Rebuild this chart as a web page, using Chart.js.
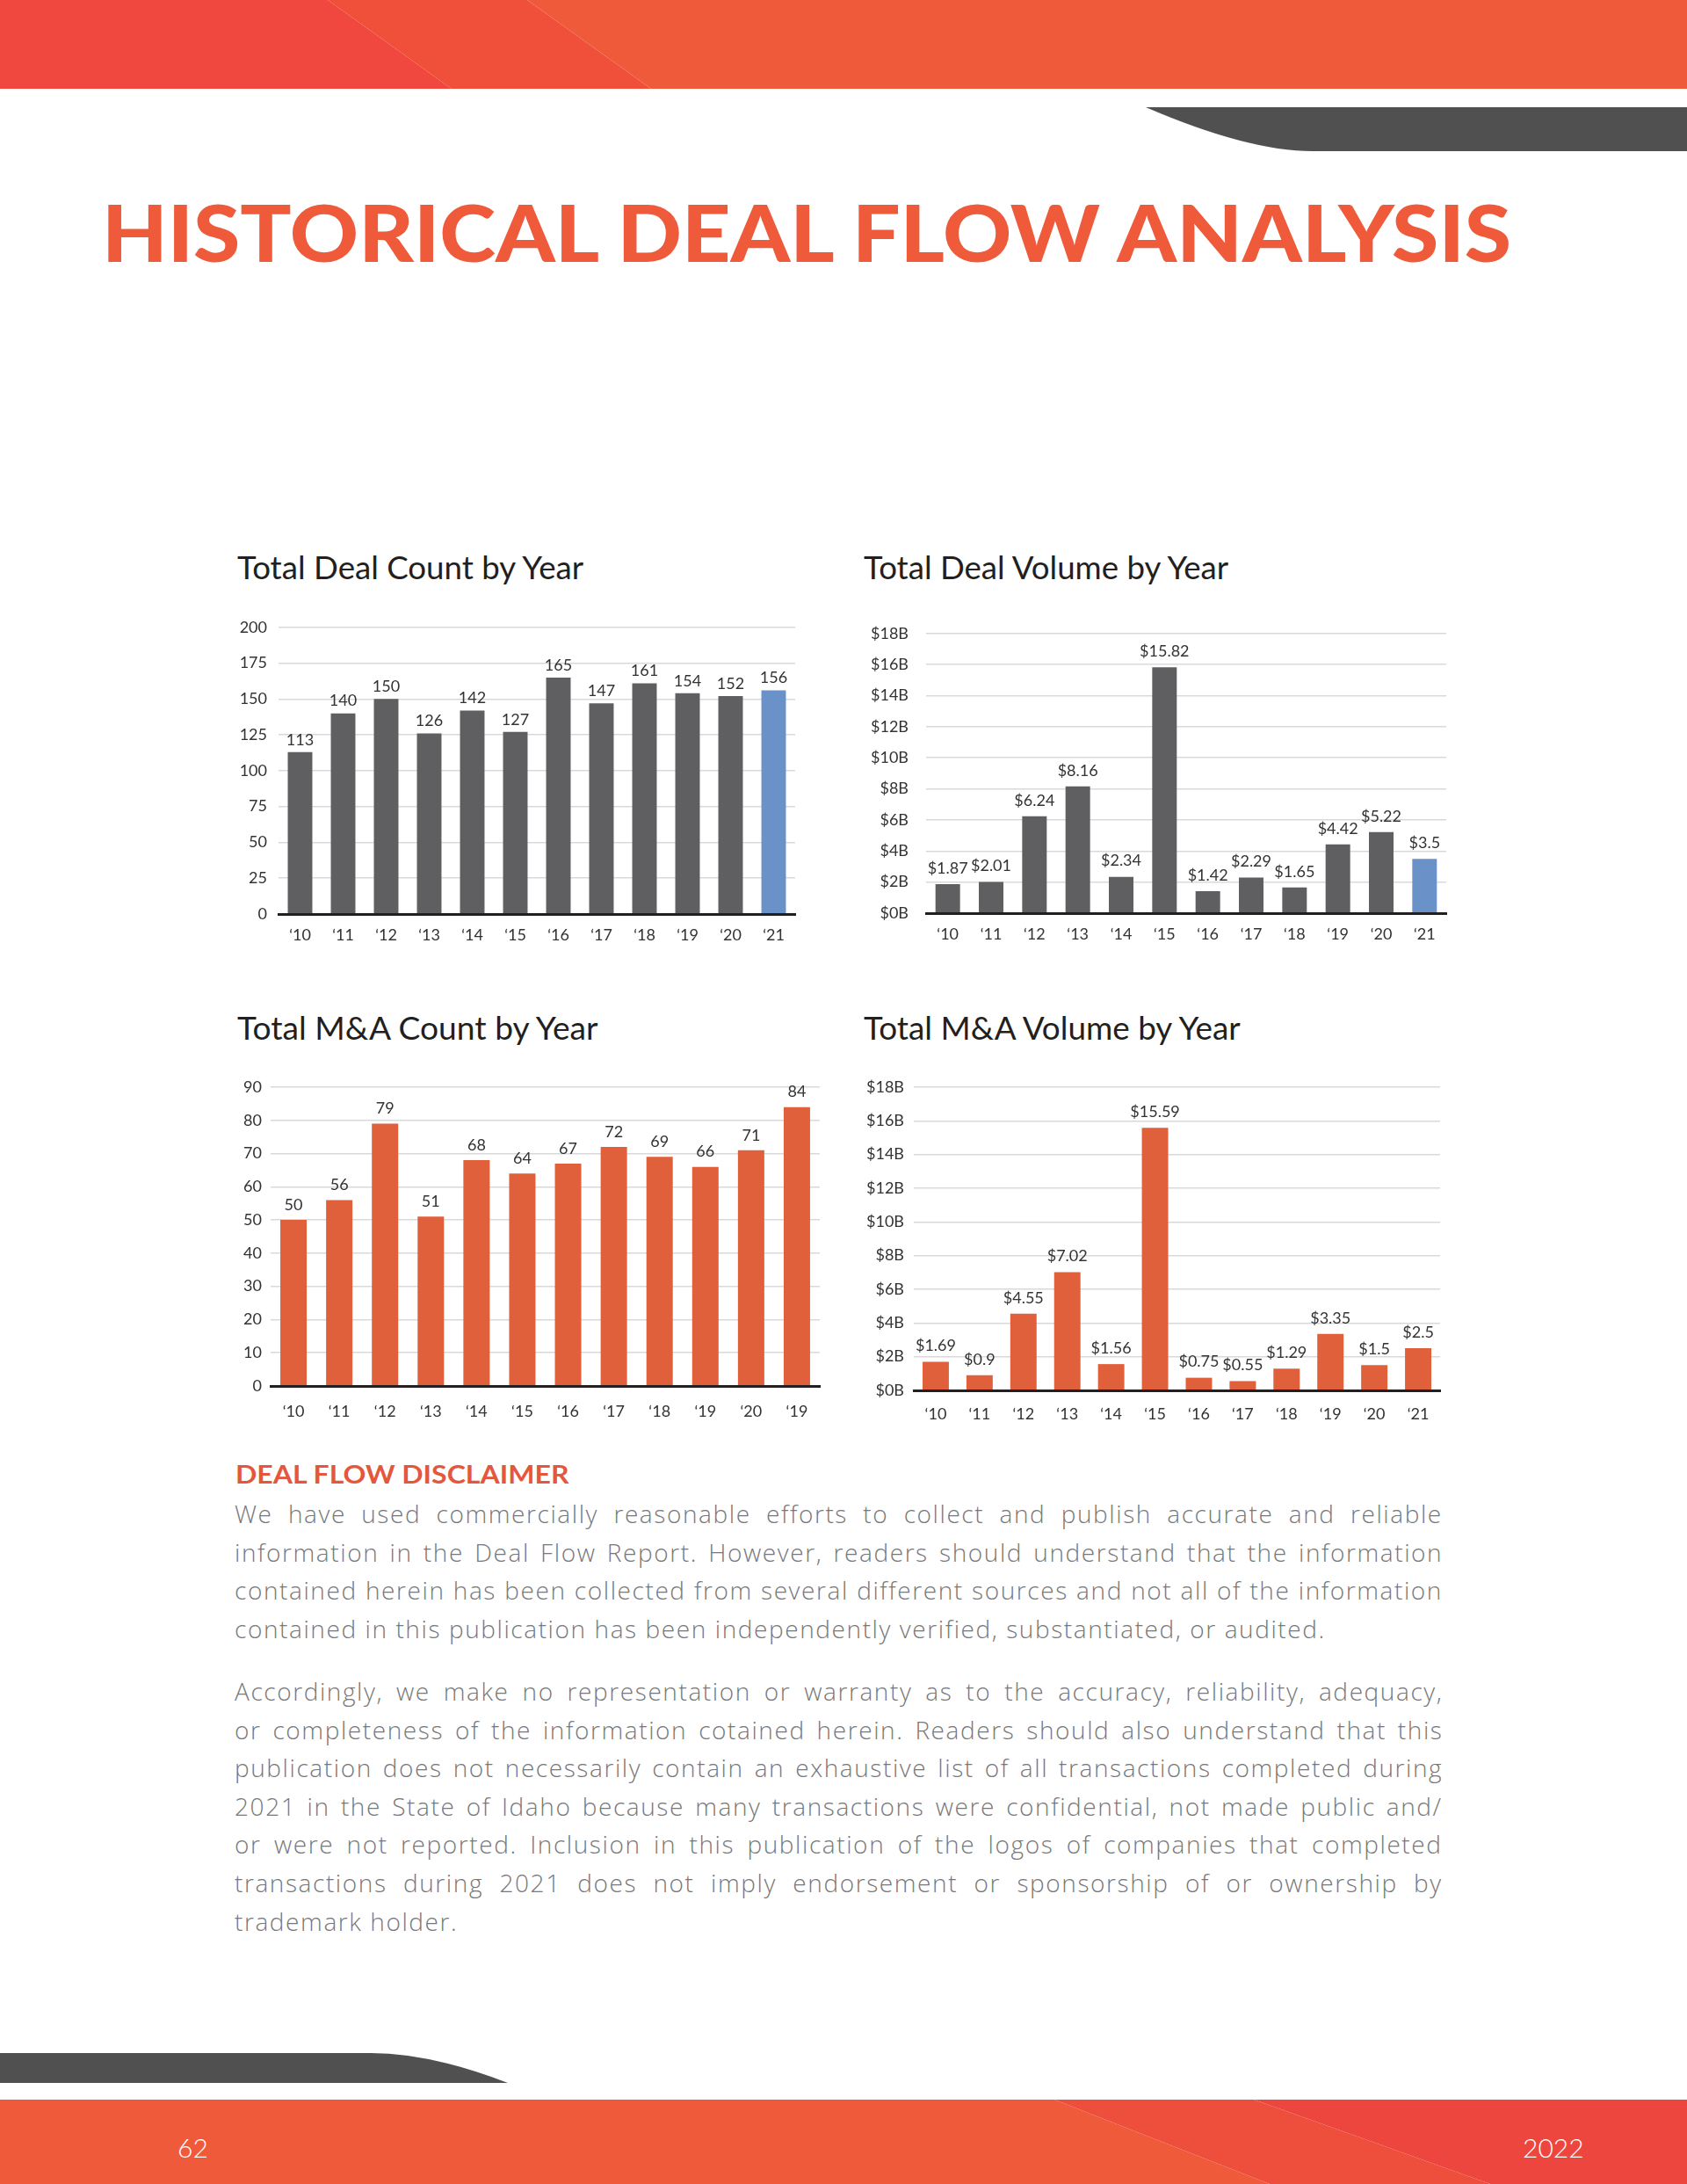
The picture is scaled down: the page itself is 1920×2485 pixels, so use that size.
<!DOCTYPE html>
<html>
<head>
<meta charset="utf-8">
<title>Historical Deal Flow Analysis</title>
<script src="https://cdn.jsdelivr.net/npm/chart.js@4.4.1/dist/chart.umd.min.js"></script>
<style>
html, body { margin: 0; padding: 0; background: #fff; }
body { width: 1920px; height: 2485px; position: relative; overflow: hidden; font-family: Lato, "Noto Sans", sans-serif; }
.abs { position: absolute; white-space: nowrap; transform-origin: 0 0; }
.page-title { left: 116px; top: 218px; font-size: 90px; line-height: 1; font-weight: 900; color: #ef5a3b; }
.chart-title { font-size: 36px; line-height: 1; font-weight: 400; color: #231f20; }
.disc-head { left: 268px; top: 1663px; font-size: 28px; line-height: 1; font-weight: 700; color: #e4573d; }
.para { position: absolute; left: 267px; width: 1375px; font-family: "Open Sans", "Noto Sans", sans-serif; font-size: 28px; line-height: 43.6px; color: #77787b; font-weight: 300; }
.para div { white-space: nowrap; }
.para span { display: inline-block; }
.folio { font-size: 30px; line-height: 1; color: #fff; font-weight: 300; top: 2428px; }
canvas { position: absolute; }
</style>
</head>
<body>

<svg class="abs" style="left:0;top:0" width="1920" height="2485">
  <polygon points="0,0 373,0 514,101 0,101" fill="#f0473e"/>
  <polygon points="373,0 600,0 741,101 514,101" fill="#f04f3a"/>
  <polygon points="600,0 1920,0 1920,101 741,101" fill="#ef5a3b"/>
  <path d="M1304,122 H1920 V172 H1494 Q1420,172 1304,122 Z" fill="#505050"/>
  <path d="M0,2336 H422 Q490,2336 578,2370 H0 Z" fill="#505050"/>
  <polygon points="0,2389 1200,2389 1445,2485 0,2485" fill="#ef5a3b"/>
  <polygon points="1200,2389 1427,2389 1696,2485 1445,2485" fill="#ee4f3c"/>
  <polygon points="1427,2389 1920,2389 1920,2485 1696,2485" fill="#ed463e"/>
</svg>

<div class="abs page-title" data-fit="1604">HISTORICAL DEAL FLOW ANALYSIS</div>

<div class="abs chart-title" style="left:270px;top:627px" data-fit="394">Total Deal Count by Year</div>
<div class="abs chart-title" style="left:983px;top:627px" data-fit="415">Total Deal Volume by Year</div>
<div class="abs chart-title" style="left:270px;top:1151px" data-fit="411">Total M&amp;A Count by Year</div>
<div class="abs chart-title" style="left:983px;top:1151px" data-fit="429">Total M&amp;A Volume by Year</div>

<canvas id="dealCountChart"></canvas>
<canvas id="dealVolumeChart"></canvas>
<canvas id="maCountChart"></canvas>
<canvas id="maVolumeChart"></canvas>

<div class="abs disc-head" data-fit="380">DEAL FLOW DISCLAIMER</div>

<div class="para" style="top:1701px">
  <div><span>We have used commercially reasonable efforts to collect and publish accurate and reliable</span></div>
  <div><span>information in the Deal Flow Report. However, readers should understand that the information</span></div>
  <div><span>contained herein has been collected from several different sources and not all of the information</span></div>
  <div class="last"><span>contained in this publication has been independently verified, substantiated, or audited.</span></div>
</div>
<div class="para" style="top:1903px">
  <div><span>Accordingly, we make no representation or warranty as to the accuracy, reliability, adequacy,</span></div>
  <div><span>or completeness of the information cotained herein. Readers should also understand that this</span></div>
  <div><span>publication does not necessarily contain an exhaustive list of all transactions completed during</span></div>
  <div><span>2021 in the State of Idaho because many transactions were confidential, not made public and/</span></div>
  <div><span>or were not reported. Inclusion in this publication of the logos of companies that completed</span></div>
  <div><span>transactions during 2021 does not imply endorsement or sponsorship of or ownership by</span></div>
  <div class="last"><span>trademark holder.</span></div>
</div>

<div class="abs folio" style="left:202px">62</div>
<div class="abs folio" style="left:1733px">2022</div>

<script>
// data
const years = ['\u201810', '\u201811', '\u201812', '\u201813', '\u201814', '\u201815',
               '\u201816', '\u201817', '\u201818', '\u201819', '\u201820', '\u201821'];
// the M&A count chart labels its last bar '19 in the original
const maYears = ['\u201810', '\u201811', '\u201812', '\u201813', '\u201814', '\u201815',
                 '\u201816', '\u201817', '\u201818', '\u201819', '\u201820', '\u201819'];

const dealCount = [113, 140, 150, 126, 142, 127, 165, 147, 161, 154, 152, 156];
const dealVolume = [1.87, 2.01, 6.24, 8.16, 2.34, 15.82, 1.42, 2.29, 1.65, 4.42, 5.22, 3.5];
const maCount = [50, 56, 79, 51, 68, 64, 67, 72, 69, 66, 71, 84];
const maVolume = [1.69, 0.9, 4.55, 7.02, 1.56, 15.59, 0.75, 0.55, 1.29, 3.35, 1.5, 2.5];

const countAxisMax = 200, countAxisStep = 25;
const maCountAxisMax = 90, maCountAxisStep = 10;
const volumeAxisMax = 18, volumeAxisStep = 2;

const GRAY = '#5f5f62';
const BLUE = '#6a92c8';
const ORANGE = '#e0603b';

Chart.defaults.font.family = 'Lato, "Noto Sans", sans-serif';
Chart.defaults.font.size = 18;
Chart.defaults.color = '#333';

// value labels above each bar (no datalabels plugin offline)
const barValueLabels = {
    id: 'barValueLabels',
    afterDatasetsDraw(chart, args, opts) {
        const ctx = chart.ctx;
        const meta = chart.getDatasetMeta(0);
        const values = chart.data.datasets[0].data;
        ctx.save();
        ctx.font = opts.size + 'px Lato, "Noto Sans", sans-serif';
        ctx.fillStyle = opts.color;
        ctx.textAlign = 'center';
        ctx.textBaseline = 'middle';
        meta.data.forEach((bar, i) => {
            ctx.fillText(opts.prefix + values[i], bar.x, bar.y - opts.offset);
        });
        ctx.restore();
    }
};

function makeBarChart(id, box, labels, values, colors, axis) {
    const canvas = document.getElementById(id);
    canvas.width = box.w;
    canvas.height = box.plotBottom - box.top + box.xH;
    canvas.style.left = box.left + 'px';
    canvas.style.top = box.top + 'px';

    return new Chart(canvas.getContext('2d'), {
        type: 'bar',
        data: {
            labels: labels,
            datasets: [{
                data: values,
                backgroundColor: colors,
                barPercentage: box.bar,
                categoryPercentage: 1
            }]
        },
        options: {
            responsive: false,
            animation: false,
            devicePixelRatio: 1,
            layout: {
                padding: { top: box.plotTop - box.top, right: box.left + box.w - box.plotRight, left: 0, bottom: 0 }
            },
            plugins: {
                legend: { display: false },
                tooltip: { enabled: false },
                barValueLabels: { prefix: axis.prefix, size: 18, color: '#333', offset: box.labelGap }
            },
            scales: {
                x: {
                    grid: { display: false, drawTicks: false },
                    border: { display: true, color: '#231f20', width: 3, z: 1 },
                    ticks: { padding: box.xPad, maxRotation: 0, autoSkip: false, color: '#333' },
                    afterFit(s) { s.height = box.xH; }
                },
                y: {
                    min: 0,
                    max: axis.max,
                    ticks: {
                        stepSize: axis.step,
                        padding: box.yPad,
                        color: '#333',
                        callback: v => axis.prefix + v + axis.suffix
                    },
                    grid: { color: '#d9d9d9', lineWidth: 1.5, drawTicks: false },
                    border: { display: false },
                    afterFit(s) { s.width = box.plotLeft - box.left; }
                }
            }
        },
        plugins: [barValueLabels]
    });
}

const countColors = dealCount.map((v, i) => i === dealCount.length - 1 ? BLUE : GRAY);
const volumeColors = dealVolume.map((v, i) => i === dealVolume.length - 1 ? BLUE : GRAY);

makeBarChart('dealCountChart',
    { left: 262, top: 690, w: 660, plotLeft: 317, plotRight: 905, plotTop: 713, plotBottom: 1040, xH: 50, yPad: 13, xPad: 13, bar: 0.57, labelGap: 14 },
    years, dealCount, countColors, { max: countAxisMax, step: countAxisStep, prefix: '', suffix: '' });

makeBarChart('dealVolumeChart',
    { left: 975, top: 690, w: 690, plotLeft: 1054, plotRight: 1646, plotTop: 713, plotBottom: 1039, xH: 50, yPad: 20, xPad: 13, bar: 0.567, labelGap: 18 },
    years, dealVolume, volumeColors, { max: volumeAxisMax, step: volumeAxisStep, prefix: '$', suffix: 'B' });

makeBarChart('maCountChart',
    { left: 262, top: 1210, w: 690, plotLeft: 308, plotRight: 933, plotTop: 1237, plotBottom: 1577, xH: 55, yPad: 10, xPad: 18, bar: 0.576, labelGap: 17 },
    maYears, maCount, ORANGE, { max: maCountAxisMax, step: maCountAxisStep, prefix: '', suffix: '' });

makeBarChart('maVolumeChart',
    { left: 975, top: 1210, w: 690, plotLeft: 1040, plotRight: 1639, plotTop: 1237, plotBottom: 1582, xH: 50, yPad: 11, xPad: 16, bar: 0.6, labelGap: 18 },
    years, maVolume, ORANGE, { max: volumeAxisMax, step: volumeAxisStep, prefix: '$', suffix: 'B' });

// text fitting: squeeze headings to their measured widths, justify body lines
function fitText() {
    document.querySelectorAll('[data-fit]').forEach(el => {
        el.style.transform = 'none';
        const target = parseFloat(el.dataset.fit);
        el.style.transform = 'scaleX(' + (target / el.offsetWidth) + ')';
    });

    const target = 1375;
    const paras = document.querySelectorAll('.para');
    const spans = Array.from(document.querySelectorAll('.para span'));
    // reset before measuring
    paras.forEach(p => p.style.letterSpacing = '0px');
    spans.forEach(s => s.style.wordSpacing = '0px');

    // track the letters so the longest line just fills the column
    const widest = Math.max(...spans.map(s => s.offsetWidth));
    const longest = spans.find(s => s.offsetWidth === widest);
    const ls = (target - 6 - widest) / longest.textContent.length;
    paras.forEach(p => p.style.letterSpacing = ls + 'px');

    document.querySelectorAll('.para div').forEach(line => {
        if (line.classList.contains('last')) return;
        const span = line.querySelector('span');
        const gaps = (span.textContent.match(/ /g) || []).length;
        const extra = (target - span.offsetWidth) / gaps;
        span.style.wordSpacing = extra + 'px';
    });
}

fitText();
if (document.fonts && document.fonts.ready) document.fonts.ready.then(fitText);
</script>
</body>
</html>
